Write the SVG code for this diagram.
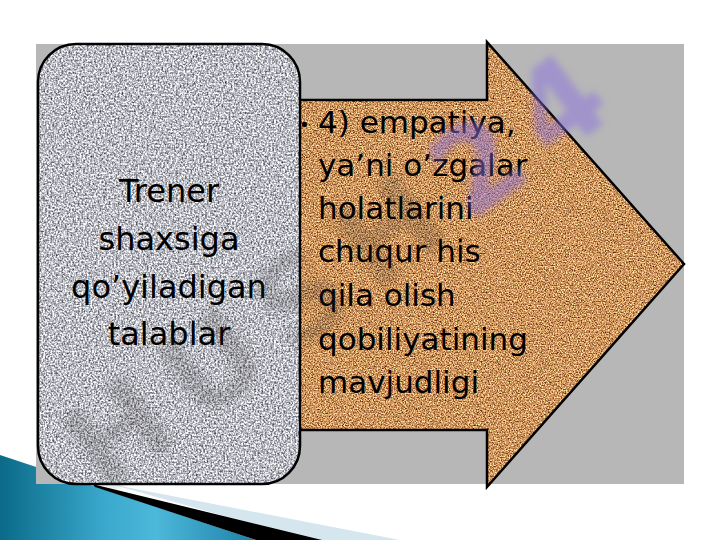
<svg xmlns="http://www.w3.org/2000/svg" width="720" height="540" viewBox="0 0 720 540">
  <style>
    .lbl { font-family: "DejaVu Sans", "Verdana", sans-serif; fill: #000; }
    .left { font-size: 32px; text-anchor: middle; }
    .right { font-size: 31px; }
    .outline { fill: none; stroke: #000; stroke-width: 2.5; stroke-linejoin: miter; }
    .wm { font-family: "DejaVu Sans", sans-serif; font-weight: bold; font-size: 118px; }
  </style>
  <defs>
    <filter id="granite" x="0" y="0" width="1" height="1" filterUnits="objectBoundingBox" color-interpolation-filters="sRGB">
      <feTurbulence type="fractalNoise" baseFrequency="0.55" numOctaves="3" seed="3" result="n"/>
      <feColorMatrix in="n" type="matrix" values="1.35 0 0 0 0.06  1.35 0 0 0 0.06  1.35 0 0 0 0.09  0 0 0 0 1" result="c"/>
      <feComposite in="c" in2="SourceGraphic" operator="in"/>
    </filter>
    <filter id="cork" x="0" y="0" width="1" height="1" filterUnits="objectBoundingBox" color-interpolation-filters="sRGB">
      <feTurbulence type="fractalNoise" baseFrequency="0.75" numOctaves="3" seed="7" result="n"/>
      <feColorMatrix in="n" type="matrix" values="1.5 0 0 0 0.05  1.4 0 0 0 -0.12  1.1 0 0 0 -0.18  0 0 0 0 1" result="c"/>
      <feComposite in="c" in2="SourceGraphic" operator="in"/>
    </filter>
    <filter id="soft" x="-10%" y="-10%" width="120%" height="120%">
      <feGaussianBlur stdDeviation="3.5"/>
    </filter>
    <linearGradient id="blue" x1="0" y1="0" x2="260" y2="0" gradientUnits="userSpaceOnUse">
      <stop offset="0" stop-color="#0a6a88"/>
      <stop offset="0.4" stop-color="#3aa8cc"/>
      <stop offset="0.6" stop-color="#4cb8da"/>
      <stop offset="1" stop-color="#1c7ea6"/>
    </linearGradient>
  </defs>

  <rect width="720" height="540" fill="#ffffff"/>

  <!-- decorative bottom-left swoosh -->
  <g id="decoration">
    <polygon points="110,484 400,540 310,540" fill="#d6e6ee"/>
    <polygon points="0,455 256,540 0,540" fill="url(#blue)"/>
    <polygon points="92,484 322,540 256,540 95,487" fill="#000"/>
  </g>

  <!-- gray panel -->
  <rect id="panel" x="36" y="44" width="648" height="440" fill="#b7b7b7"/>

  <!-- arrow node -->
  <g id="node-arrow">
    <polygon points="270,100 487,100 487,42 684,264 487,487 487,430 270,430" fill="#d8985c" filter="url(#cork)"/>
    <polygon class="outline" points="270,100 487,100 487,42 684,264 487,487 487,430 270,430"/>
    <text class="lbl" x="299" y="131" font-size="18" font-family="DejaVu Sans, sans-serif">•</text>
    <text class="lbl right" x="318" y="133">4) empatiya,</text>
    <text class="lbl right" x="318" y="176">ya’ni o’zgalar</text>
    <text class="lbl right" x="318" y="219">holatlarini</text>
    <text class="lbl right" x="318" y="262">chuqur his</text>
    <text class="lbl right" x="318" y="306">qila olish</text>
    <text class="lbl right" x="318" y="350">qobiliyatining</text>
    <text class="lbl right" x="318" y="393">mavjudligi</text>
  </g>

  <!-- left rounded node -->
  <g id="node-left">
    <rect x="38" y="44" width="262" height="440" rx="38" ry="38" fill="#b8b8c0" filter="url(#granite)"/>
    <rect class="outline" x="38" y="44" width="262" height="440" rx="38" ry="38"/>
    <text class="lbl left" x="169" y="202">Trener</text>
    <text class="lbl left" x="169" y="250">shaxsiga</text>
    <text class="lbl left" x="169" y="298">qo’yiladigan</text>
    <text class="lbl left" x="169" y="345">talablar</text>
  </g>

  <!-- faint watermark -->
  <g id="watermark" filter="url(#soft)">
    <text class="wm" transform="translate(104,496) rotate(-36.7)" textLength="640" lengthAdjust="spacing"><tspan fill="#2a2a2a" fill-opacity="0.18">HUSH</tspan><tspan fill="#8a6fe0" fill-opacity="0.5">24</tspan></text>
  </g>
</svg>
